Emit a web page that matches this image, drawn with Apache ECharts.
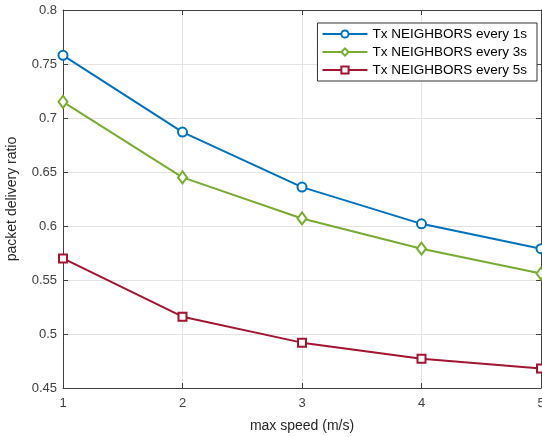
<!DOCTYPE html>
<html><head><meta charset="utf-8">
<script src="https://cdn.jsdelivr.net/npm/echarts@6/dist/echarts.min.js"></script>
<style>html,body{margin:0;padding:0;background:#fff}#c{width:542px;height:437px}</style>
</head><body><div id="c"></div>
<script>
const speeds = [1, 2, 3, 4, 5];
const every1s = [0.758, 0.687, 0.636, 0.602, 0.579];
const every3s = [0.715, 0.645, 0.607, 0.579, 0.556];
const every5s = [0.570, 0.516, 0.492, 0.477, 0.468];
const seriesNames = ['Tx NEIGHBORS every 1s', 'Tx NEIGHBORS every 3s', 'Tx NEIGHBORS every 5s'];

const font = 'Liberation Sans, Arial, Helvetica, sans-serif';
const axisCol = '#404040';
const pair = (ys) => speeds.map((x, i) => [x, ys[i]]);

const chart = echarts.init(document.getElementById('c'), null, {renderer: 'canvas'});
const mkSeries = (name, ys, color, symbol, size) => ({
  name, type: 'line', data: pair(ys), xAxisIndex: 0, yAxisIndex: 0,
  symbol, symbolSize: size, showAllSymbol: true,
  lineStyle: {color, width: 2}, itemStyle: {color, borderColor: color, borderWidth: 1.5},
  emphasis: {disabled: true}, animation: false, clip: false, z: 5
});
chart.setOption({
  animation: false,
  textStyle: {fontFamily: font},
  grid: {left: 63, right: 1, top: 10, bottom: 49, containLabel: false, outerBoundsMode: 'none'},
  legend: {
    orient: 'vertical', right: 5, top: 23,
    itemWidth: 45, itemHeight: 9, itemGap: 4,
    padding: [4, 10, 4, 4],
    borderColor: '#333', borderWidth: 1, backgroundColor: '#fff',
    textStyle: {fontFamily: font, fontSize: 13.5, color: '#000', lineHeight: 14},
    data: seriesNames
  },
  xAxis: [{
    type: 'value', min: 1, max: 5, interval: 1,
    name: 'max speed (m/s)', nameLocation: 'middle', nameGap: 31,
    nameTextStyle: {fontFamily: font, fontSize: 14, color: '#262626'},
    axisLine: {show: true, lineStyle: {color: axisCol, width: 1}},
    axisTick: {show: true, inside: true, length: 5, lineStyle: {color: axisCol}},
    axisLabel: {fontFamily: font, fontSize: 13, color: axisCol, margin: 9},
    splitLine: {show: true, lineStyle: {color: '#e3e3e3', width: 1}}
  }, {
    type: 'value', min: 1, max: 5, interval: 1, position: 'top',
    axisLine: {show: true, lineStyle: {color: axisCol, width: 1}},
    axisTick: {show: true, inside: true, length: 5, lineStyle: {color: axisCol}},
    axisLabel: {show: false}, splitLine: {show: false}
  }],
  yAxis: [{
    type: 'value', min: 0.45, max: 0.8, interval: 0.05,
    name: 'packet delivery ratio', nameLocation: 'middle', nameGap: 44, nameRotate: 90,
    nameTextStyle: {fontFamily: font, fontSize: 14, color: '#262626'},
    axisLine: {show: true, lineStyle: {color: axisCol, width: 1}},
    axisTick: {show: true, inside: true, length: 5, lineStyle: {color: axisCol}},
    axisLabel: {fontFamily: font, fontSize: 13, color: axisCol, margin: 6,
      formatter: v => String(Math.round(v * 100) / 100)},
    splitLine: {show: true, lineStyle: {color: '#e3e3e3', width: 1}}
  }, {
    type: 'value', min: 0.45, max: 0.8, interval: 0.05, position: 'right',
    axisLine: {show: true, lineStyle: {color: axisCol, width: 1}},
    axisTick: {show: true, inside: true, length: 5, lineStyle: {color: axisCol}},
    axisLabel: {show: false}, splitLine: {show: false}
  }],
  series: [
    mkSeries(seriesNames[0], every1s, '#0072BD', 'emptyCircle', 9),
    mkSeries(seriesNames[1], every3s, '#77AC30', 'emptyDiamond', [9, 12]),
    mkSeries(seriesNames[2], every5s, '#A2142F', 'emptyRect', 8)
  ]
});
</script></body></html>
